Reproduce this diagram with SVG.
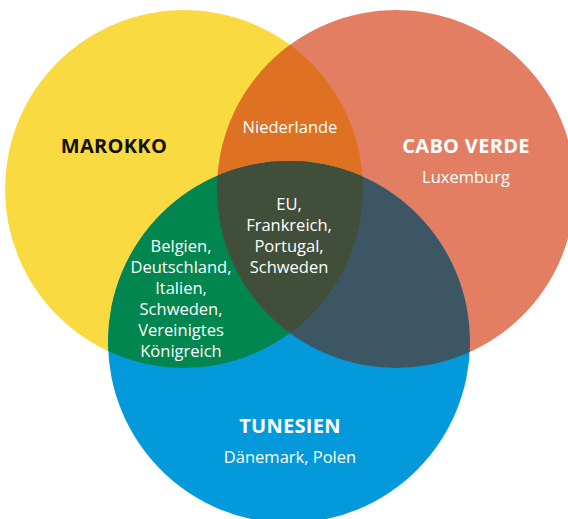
<svg xmlns="http://www.w3.org/2000/svg" width="568" height="519" viewBox="0 0 568 519">
<style>
text{font-family:"Open Sans","Noto Sans",sans-serif;text-anchor:middle;}
.t{font-size:20px;font-weight:700;letter-spacing:0.3px;}
.s{font-size:16.5px;fill:#fff;}
.w{fill:#fff;}
</style>
<defs>
<clipPath id="cy"><circle cx="184" cy="189" r="179"/></clipPath>
<clipPath id="co"><circle cx="396" cy="189" r="179"/></clipPath>
</defs>
<rect width="568" height="519" fill="#fff"/>
<g id="marokko">
<circle cx="184" cy="189" r="179" fill="#F9DA40"/>
</g>
<g id="caboverde">
<circle cx="396" cy="189" r="179" fill="#E37E63"/>
</g>
<g id="tunesien">
<circle cx="289" cy="342" r="181" fill="#0399DA"/>
</g>
<g id="niederlande-region">
<circle cx="396" cy="189" r="179" fill="#DF7122" clip-path="url(#cy)"/>
</g>
<g id="yellow-blue-region">
<circle cx="289" cy="342" r="181" fill="#02864F" clip-path="url(#cy)"/>
</g>
<g id="orange-blue-region">
<circle cx="289" cy="342" r="181" fill="#3D5663" clip-path="url(#co)"/>
</g>
<g id="center-region" clip-path="url(#cy)">
<circle cx="289" cy="342" r="181" fill="#414F3A" clip-path="url(#co)"/>
</g>
<g id="labels">
<text class="t" x="114" y="153" fill="#111">MAROKKO</text>
<text class="t w" x="466" y="153">CABO VERDE</text>
<text class="s" x="466" y="183">Luxemburg</text>
<text class="s" x="290" y="133">Niederlande</text>
<text class="s" x="289" y="210">EU,</text>
<text class="s" x="289" y="231">Frankreich,</text>
<text class="s" x="289" y="252">Portugal,</text>
<text class="s" x="289" y="273">Schweden</text>
<text class="s" x="181" y="252">Belgien,</text>
<text class="s" x="181" y="273">Deutschland,</text>
<text class="s" x="181" y="294">Italien,</text>
<text class="s" x="181" y="315">Schweden,</text>
<text class="s" x="181" y="336">Vereinigtes</text>
<text class="s" x="181" y="357">Königreich</text>
<text class="t w" x="290" y="433">TUNESIEN</text>
<text class="s" x="290" y="463">Dänemark, Polen</text>
</g>
</svg>
